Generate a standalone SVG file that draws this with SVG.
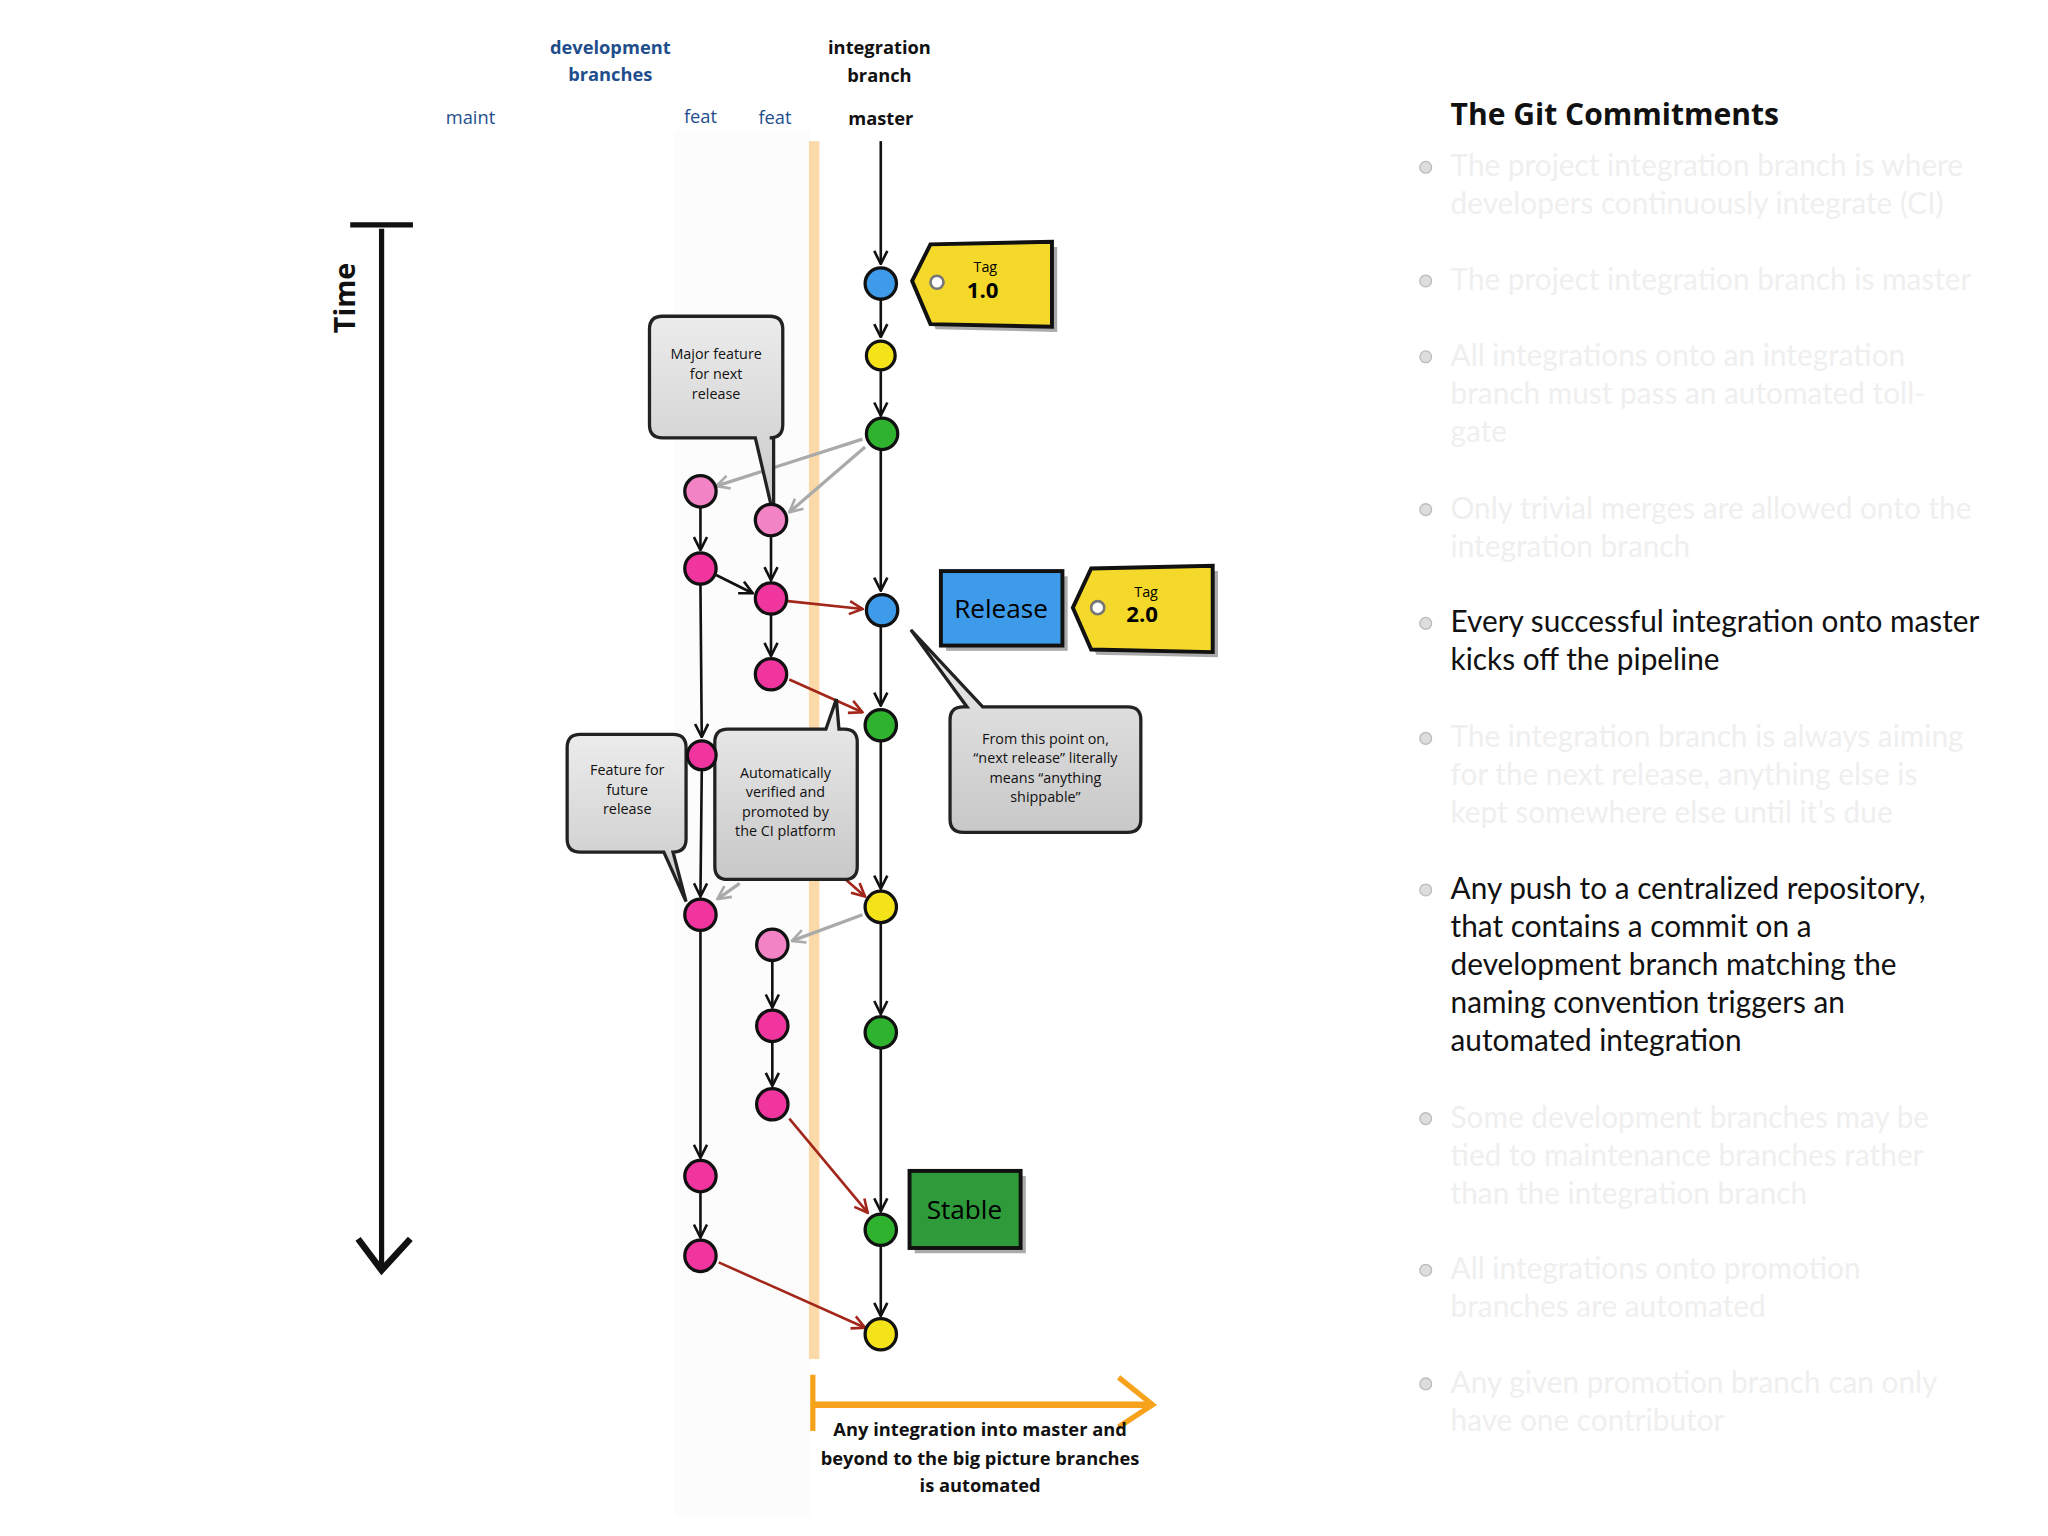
<svg xmlns="http://www.w3.org/2000/svg" width="2048" height="1536" viewBox="0 0 2048 1536">
<style>
.n{stroke:#111;stroke-width:2.5}
.bl{fill:#3d9be9}.ye{fill:#f5e31a}.gr{fill:#2fb32f}.pk{fill:#f0359f}.lp{fill:#f283c4}
.ln{stroke:#111;stroke-width:2;fill:none}
.gy{stroke:#aaa;stroke-width:2.5;fill:none}
.rd{stroke:#a3261b;stroke-width:2;fill:none}
.hd{font-family:"Open Sans","Noto Sans",sans-serif;font-weight:bold;font-size:14px;text-anchor:middle}
.br{font-family:"Open Sans","Noto Sans",sans-serif;font-size:14px;text-anchor:middle;fill:#1f4e8c}
.co{font-family:"Open Sans","Noto Sans",sans-serif;font-size:11px;text-anchor:middle;fill:#111}
.bx{fill:url(#cg);stroke:#222;stroke-width:2.5}
.rt{font-family:Lato,"Noto Sans",sans-serif;font-size:24px}
.f{fill:#efefef}.k{fill:#111}
.bu{fill:#ddd;stroke:#bbb;stroke-width:1}
</style>
<defs>
<marker id="ak" viewBox="0 0 12 12" refX="11" refY="6" markerWidth="12" markerHeight="12" markerUnits="userSpaceOnUse" orient="auto"><path d="M1,1 L11,6 L1,11" fill="none" stroke="#111" stroke-width="2"/></marker>
<marker id="ag" viewBox="0 0 12 12" refX="11" refY="6" markerWidth="12" markerHeight="12" markerUnits="userSpaceOnUse" orient="auto"><path d="M1,1 L11,6 L1,11" fill="none" stroke="#aaa" stroke-width="2"/></marker>
<marker id="ar" viewBox="0 0 12 12" refX="11" refY="6" markerWidth="12" markerHeight="12" markerUnits="userSpaceOnUse" orient="auto"><path d="M1,1 L11,6 L1,11" fill="none" stroke="#a3261b" stroke-width="2"/></marker>
<linearGradient id="cg" x1="0" y1="0" x2="0" y2="1"><stop offset="0" stop-color="#ececec"/><stop offset="1" stop-color="#c8c8c8"/></linearGradient>
</defs>
<g transform="scale(1.3068)">
<rect x="516" y="100" width="104" height="1060" fill="#fcfcfc"/>
<g id="headers">
<text class="hd" x="467" y="41" fill="#1f4e8c">development</text>
<text class="hd" x="467" y="62" fill="#1f4e8c">branches</text>
<text class="hd" x="673" y="41" fill="#111">integration</text>
<text class="hd" x="673" y="63" fill="#111">branch</text>
<text class="hd" x="674" y="96" fill="#111">master</text>
<text class="br" x="360" y="95">maint</text>
<text class="br" x="536" y="94">feat</text>
<text class="br" x="593" y="95">feat</text>
</g>
<g id="time">
<line x1="292" y1="175" x2="292" y2="970" stroke="#111" stroke-width="4"/>
<line x1="268" y1="172" x2="316" y2="172" stroke="#111" stroke-width="4"/>
<path d="M274,948 L292,972 L314,948" fill="none" stroke="#111" stroke-width="5"/>
<text x="272" y="228" transform="rotate(-90 272 228)" font-family="Open Sans,sans-serif" font-weight="bold" font-size="22" text-anchor="middle" fill="#111">Time</text>
</g>
<rect id="band" x="619" y="108" width="8" height="932" fill="#fbd9a8"/>
<g id="connectors">
<line class="ln" x1="674" y1="108" x2="674" y2="202" marker-end="url(#ak)"/>
<line class="ln" x1="674" y1="229" x2="674" y2="258" marker-end="url(#ak)"/>
<line class="ln" x1="674" y1="284" x2="674" y2="318" marker-end="url(#ak)"/>
<line class="ln" x1="674" y1="344" x2="674" y2="452" marker-end="url(#ak)"/>
<line class="ln" x1="674" y1="479" x2="674" y2="540" marker-end="url(#ak)"/>
<line class="ln" x1="674" y1="567" x2="674" y2="680" marker-end="url(#ak)"/>
<line class="ln" x1="674" y1="706" x2="674" y2="776" marker-end="url(#ak)"/>
<line class="ln" x1="674" y1="802" x2="674" y2="927" marker-end="url(#ak)"/>
<line class="ln" x1="674" y1="953" x2="674" y2="1007" marker-end="url(#ak)"/>
<line class="ln" x1="536" y1="388" x2="536" y2="421" marker-end="url(#ak)"/>
<line class="ln" x1="536" y1="447" x2="537" y2="564" marker-end="url(#ak)"/>
<line class="ln" x1="537" y1="590" x2="536" y2="686" marker-end="url(#ak)"/>
<line class="ln" x1="536" y1="712" x2="536" y2="886" marker-end="url(#ak)"/>
<line class="ln" x1="536" y1="912" x2="536" y2="947" marker-end="url(#ak)"/>
<line class="ln" x1="590" y1="410" x2="590" y2="444" marker-end="url(#ak)"/>
<line class="ln" x1="590" y1="470" x2="590" y2="502" marker-end="url(#ak)"/>
<line class="ln" x1="591" y1="735" x2="591" y2="771" marker-end="url(#ak)"/>
<line class="ln" x1="591" y1="797" x2="591" y2="831" marker-end="url(#ak)"/>
<line class="ln" x1="548" y1="440" x2="576" y2="454" marker-end="url(#ak)"/>
<line class="gy" x1="660" y1="336" x2="548" y2="372" marker-end="url(#ag)"/>
<line class="gy" x1="662" y1="342" x2="604" y2="392" marker-end="url(#ag)"/>
<line class="gy" x1="660" y1="700" x2="606" y2="720" marker-end="url(#ag)"/>
<line class="gy" x1="566" y1="676" x2="549" y2="688" marker-end="url(#ag)"/>
<line class="rd" x1="603" y1="460" x2="660" y2="466" marker-end="url(#ar)"/>
<line class="rd" x1="604" y1="520" x2="660" y2="545" marker-end="url(#ar)"/>
<line class="rd" x1="646" y1="672" x2="662" y2="686" marker-end="url(#ar)"/>
<line class="rd" x1="604" y1="856" x2="664" y2="928" marker-end="url(#ar)"/>
<line class="rd" x1="550" y1="966" x2="662" y2="1016" marker-end="url(#ar)"/>
</g>
<g id="callout-major"><path class="bx" d="M507,242 H589 Q599,242 599,252 V325 Q599,335 589,335 H592 L592,395 L578,335 H507 Q497,335 497,325 V252 Q497,242 507,242 Z"/>
<text class="co" x="548" y="275">Major feature</text><text class="co" x="548" y="290">for next</text><text class="co" x="548" y="305">release</text></g>
<g id="callout-future"><path class="bx" d="M444,562 H515 Q525,562 525,572 V642 Q525,652 515,652 L525,690 L508,652 H444 Q434,652 434,642 V572 Q434,562 444,562 Z"/>
<text class="co" x="480" y="593">Feature for</text><text class="co" x="480" y="608">future</text><text class="co" x="480" y="623">release</text></g>
<g id="callout-auto"><path class="bx" d="M557,558 H632 L640,535 L642,558 H646 Q656,558 656,568 V663 Q656,673 646,673 H557 Q547,673 547,663 V568 Q547,558 557,558 Z"/>
<text class="co" x="601" y="595">Automatically</text><text class="co" x="601" y="610">verified and</text><text class="co" x="601" y="625">promoted by</text><text class="co" x="601" y="640">the CI platform</text></g>
<g id="callout-ship"><path class="bx" d="M737,541 H740 L697,482 L752,541 H863 Q873,541 873,551 V627 Q873,637 863,637 H737 Q727,637 727,627 V551 Q727,541 737,541 Z"/>
<text class="co" x="800" y="569">From this point on,</text><text class="co" x="800" y="584">“next release” literally</text><text class="co" x="800" y="599">means “anything</text><text class="co" x="800" y="614">shippable”</text></g>
<g id="nodes">
<circle class="n bl" cx="674" cy="217" r="12"/><circle class="n ye" cx="674" cy="272" r="11"/><circle class="n gr" cx="675" cy="332" r="12"/>
<circle class="n bl" cx="675" cy="467" r="12"/><circle class="n gr" cx="674" cy="555" r="12"/><circle class="n ye" cx="674" cy="694" r="12"/>
<circle class="n gr" cx="674" cy="790" r="12"/><circle class="n gr" cx="674" cy="941" r="12"/><circle class="n ye" cx="674" cy="1021" r="12"/>
<circle class="n lp" cx="536" cy="376" r="12"/><circle class="n pk" cx="536" cy="435" r="12"/><circle class="n pk" cx="537" cy="578" r="11"/>
<circle class="n pk" cx="536" cy="700" r="12"/><circle class="n pk" cx="536" cy="900" r="12"/><circle class="n pk" cx="536" cy="961" r="12"/>
<circle class="n lp" cx="590" cy="398" r="12"/><circle class="n pk" cx="590" cy="458" r="12"/><circle class="n pk" cx="590" cy="516" r="12"/>
<circle class="n lp" cx="591" cy="723" r="12"/><circle class="n pk" cx="591" cy="785" r="12"/><circle class="n pk" cx="591" cy="845" r="12"/>
</g>
<g id="tag1">
<polygon points="702,219 716,191 809,189 809,254 716,252" fill="#555" opacity="0.5"/>
<polygon points="698,215 712,187 805,185 805,250 712,248" fill="#f5d92a" stroke="#111" stroke-width="3"/>
<circle cx="717" cy="216" r="5" fill="#fff" stroke="#777" stroke-width="2"/>
<text x="754" y="208" font-family="Open Sans,sans-serif" font-size="11" text-anchor="middle">Tag</text>
<text x="752" y="228" font-family="Open Sans,sans-serif" font-weight="bold" font-size="17" text-anchor="middle">1.0</text>
</g>
<g id="release">
<rect x="724" y="441" width="93" height="57" fill="#555" opacity="0.5"/>
<rect x="720" y="437" width="93" height="57" fill="#3d9be9" stroke="#111" stroke-width="3"/>
<text x="766" y="473" font-family="Open Sans,sans-serif" font-size="20" text-anchor="middle">Release</text>
</g>
<g id="tag2">
<polygon points="825,469 839,439 932,437 932,503 839,501" fill="#555" opacity="0.5"/>
<polygon points="821,465 835,435 928,433 928,499 835,497" fill="#f5d92a" stroke="#111" stroke-width="3"/>
<circle cx="840" cy="465" r="5" fill="#fff" stroke="#777" stroke-width="2"/>
<text x="877" y="457" font-family="Open Sans,sans-serif" font-size="11" text-anchor="middle">Tag</text>
<text x="874" y="476" font-family="Open Sans,sans-serif" font-weight="bold" font-size="17" text-anchor="middle">2.0</text>
</g>
<g id="stable">
<rect x="700" y="900" width="85" height="59" fill="#555" opacity="0.5"/>
<rect x="696" y="896" width="85" height="59" fill="#2e9a3a" stroke="#111" stroke-width="3"/>
<text x="738" y="933" font-family="Open Sans,sans-serif" font-size="20" text-anchor="middle">Stable</text>
</g>
<g id="automated">
<line x1="622" y1="1052" x2="622" y2="1095" stroke="#f7a21b" stroke-width="4"/>
<line x1="622" y1="1075" x2="880" y2="1075" stroke="#f7a21b" stroke-width="5"/>
<path d="M856,1054 L882,1075 L856,1092" fill="none" stroke="#f7a21b" stroke-width="4"/>
<text class="hd" x="750" y="1099" fill="#111">Any integration into master and</text>
<text class="hd" x="750" y="1121" fill="#111">beyond to the big picture branches</text>
<text class="hd" x="750" y="1142" fill="#111">is automated</text>
</g>
<g id="commitments">
<text x="1110" y="96" font-family="Open Sans,sans-serif" font-weight="bold" font-size="23" fill="#111">The Git Commitments</text>
<g class="rt" transform="translate(1110 0) scale(0.95 1)">
<text class="f" x="0" y="135">The project integration branch is where</text>
<text class="f" x="0" y="164">developers continuously integrate (CI)</text>
<text class="f" x="0" y="222">The project integration branch is master</text>
<text class="f" x="0" y="280">All integrations onto an integration</text>
<text class="f" x="0" y="309">branch must pass an automated toll-</text>
<text class="f" x="0" y="338">gate</text>
<text class="f" x="0" y="397">Only trivial merges are allowed onto the</text>
<text class="f" x="0" y="426">integration branch</text>
<text class="k" x="0" y="484">Every successful integration onto master</text>
<text class="k" x="0" y="513">kicks off the pipeline</text>
<text class="f" x="0" y="572">The integration branch is always aiming</text>
<text class="f" x="0" y="601">for the next release, anything else is</text>
<text class="f" x="0" y="630">kept somewhere else until it’s due</text>
<text class="k" x="0" y="688">Any push to a centralized repository,</text>
<text class="k" x="0" y="717">that contains a commit on a</text>
<text class="k" x="0" y="746">development branch matching the</text>
<text class="k" x="0" y="775">naming convention triggers an</text>
<text class="k" x="0" y="804">automated integration</text>
<text class="f" x="0" y="863">Some development branches may be</text>
<text class="f" x="0" y="892">tied to maintenance branches rather</text>
<text class="f" x="0" y="921">than the integration branch</text>
<text class="f" x="0" y="979">All integrations onto promotion</text>
<text class="f" x="0" y="1008">branches are automated</text>
<text class="f" x="0" y="1066">Any given promotion branch can only</text>
<text class="f" x="0" y="1095">have one contributor</text>
</g>
<circle class="bu" cx="1091" cy="128" r="4.5"/><circle class="bu" cx="1091" cy="215" r="4.5"/><circle class="bu" cx="1091" cy="273" r="4.5"/>
<circle class="bu" cx="1091" cy="390" r="4.5"/><circle class="bu" cx="1091" cy="477" r="4.5"/><circle class="bu" cx="1091" cy="565" r="4.5"/>
<circle class="bu" cx="1091" cy="681" r="4.5"/><circle class="bu" cx="1091" cy="856" r="4.5"/><circle class="bu" cx="1091" cy="972" r="4.5"/>
<circle class="bu" cx="1091" cy="1059" r="4.5"/>
</g>
</g>
</svg>
